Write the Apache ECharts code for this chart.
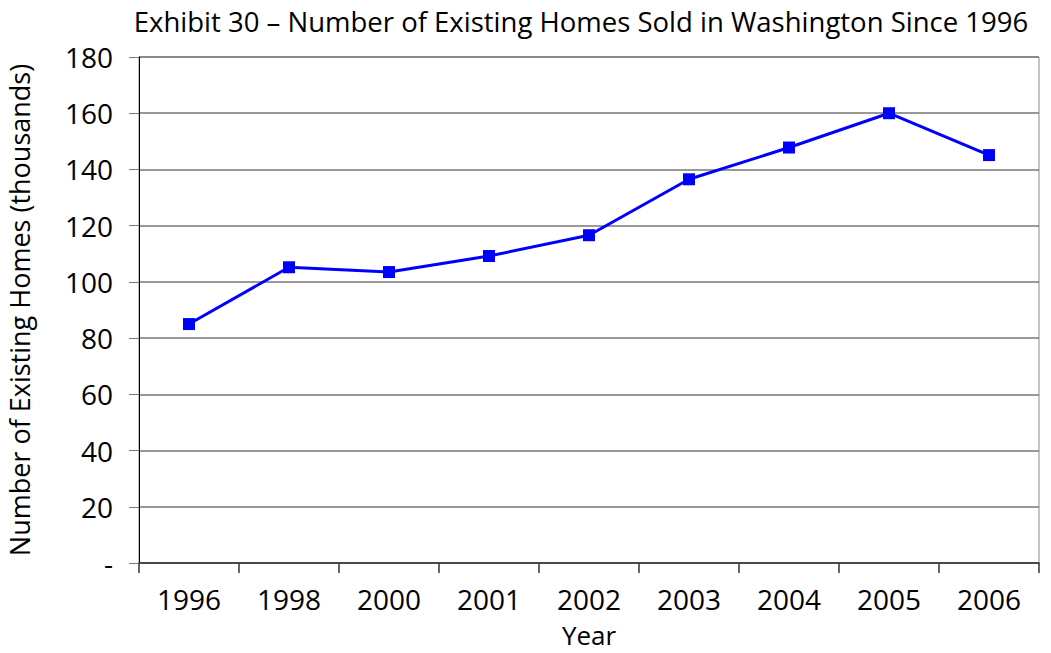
<!DOCTYPE html>
<html>
<head>
<meta charset="utf-8">
<script src="https://cdn.jsdelivr.net/npm/echarts@6/dist/echarts.min.js"></script>
<style>
  html, body { margin: 0; padding: 0; background: #fff; }
  #chart { width: 1051px; height: 653px; }
</style>
</head>
<body>
<div id="chart"></div>
<script>
var years = ['1996', '1998', '2000', '2001', '2002', '2003', '2004', '2005', '2006'];
var homesSold = [85, 105.2, 103.5, 109.2, 116.6, 136.5, 147.8, 160, 145.1];
var titleText = 'Exhibit 30 \u2013 Number of Existing Homes Sold in Washington Since 1996';

var font = '"Open Sans", "DejaVu Sans", sans-serif';
var chart = echarts.init(document.getElementById('chart'), null, { renderer: 'svg' });
chart.setOption({
  animation: false,
  backgroundColor: '#fff',
  title: {
    text: titleText,
    left: 576, top: 2, textAlign: 'center',
    textStyle: { fontFamily: font, fontSize: 27.5, fontWeight: 'normal', color: '#000' }
  },
  grid: {
    left: 139, right: 12, top: 57, bottom: 90,
    outerBoundsMode: 'none',
    show: true, borderColor: '#888', borderWidth: 1
  },
  xAxis: {
    type: 'category',
    data: years,
    boundaryGap: true,
    name: 'Year',
    nameLocation: 'middle',
    nameGap: 58,
    nameTextStyle: { fontFamily: font, fontSize: 26, color: '#000', lineHeight: 28 },
    axisLine: { show: true, lineStyle: { color: '#333', width: 1.5 } },
    axisTick: { show: true, inside: false, length: 10, interval: 0, lineStyle: { color: '#333', width: 1.5 } },
    axisLabel: { fontFamily: font, fontSize: 28, color: '#000', margin: 22, interval: 0 }
  },
  yAxis: {
    type: 'value',
    min: 0, max: 180, interval: 20,
    name: 'Number of Existing Homes (thousands)',
    nameLocation: 'middle',
    nameGap: 106,
    nameTextStyle: { fontFamily: font, fontSize: 27, color: '#000' },
    axisLine: { show: true, lineStyle: { color: '#000', width: 1 } },
    axisTick: { show: true, length: 10, lineStyle: { color: '#777' } },
    splitLine: { lineStyle: { color: '#777', width: 1.5 } },
    axisLabel: {
      fontFamily: font, fontSize: 28, color: '#000', margin: 26,
      formatter: function (v) { return v === 0 ? '-' : String(v); }
    }
  },
  series: [{
    type: 'line',
    data: homesSold,
    symbol: 'rect',
    symbolSize: 12,
    lineStyle: { color: '#0000ff', width: 3 },
    itemStyle: { color: '#0000ff' }
  }]
});
</script>
</body>
</html>
